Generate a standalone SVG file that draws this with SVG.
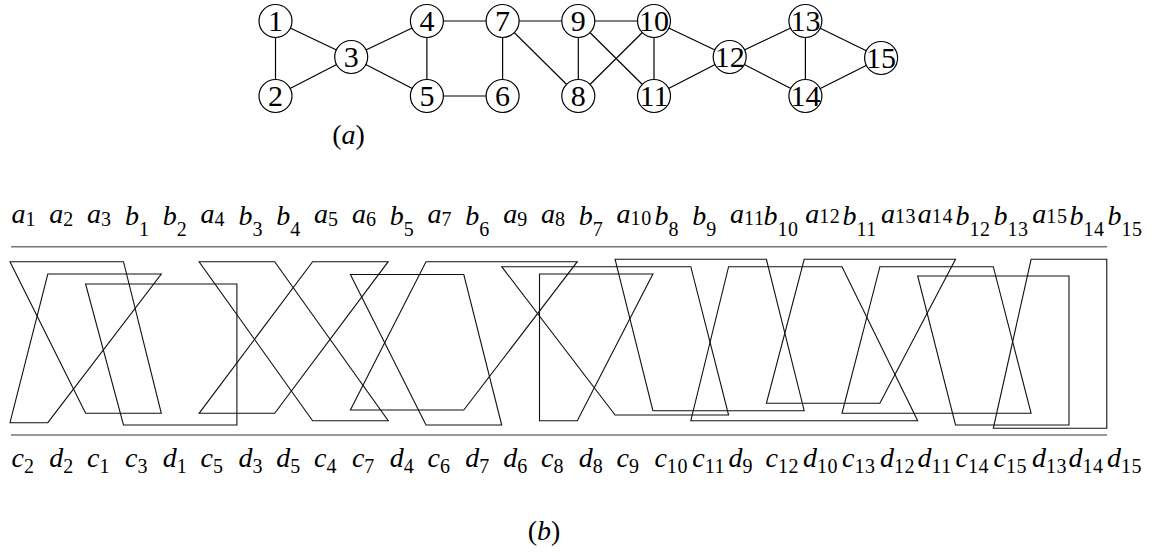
<svg xmlns="http://www.w3.org/2000/svg" width="1155" height="554" viewBox="0 0 1155 554">
<style>
.e{stroke:#000;stroke-width:1.2;fill:none}
.c{fill:#fff;stroke:#000;stroke-width:1.2}
.n{font-family:"Liberation Serif",serif;font-size:30px;text-anchor:middle;fill:#000}
.m{font-family:"Liberation Serif",serif;font-style:italic;font-size:28px;fill:#000}
.s{font-style:normal;font-size:20px;letter-spacing:0.6px}
.cap{font-family:"Liberation Serif",serif;font-size:28px;text-anchor:middle;fill:#000}
.rule{stroke:#777;stroke-width:1.6}
.t{fill:none;stroke:#111;stroke-width:1.1;stroke-linejoin:miter}
</style>
<g id="connectors">
<line class="e" x1="275.5" y1="21" x2="275.5" y2="96"/>
<line class="e" x1="275.5" y1="21" x2="351.2" y2="57"/>
<line class="e" x1="275.5" y1="96" x2="351.2" y2="57"/>
<line class="e" x1="351.2" y1="57" x2="426.9" y2="21"/>
<line class="e" x1="351.2" y1="57" x2="426.9" y2="96"/>
<line class="e" x1="426.9" y1="21" x2="426.9" y2="96"/>
<line class="e" x1="426.9" y1="21" x2="502.6" y2="21"/>
<line class="e" x1="426.9" y1="96" x2="502.6" y2="96"/>
<line class="e" x1="502.6" y1="21" x2="502.6" y2="96"/>
<line class="e" x1="502.6" y1="21" x2="578.3" y2="21"/>
<line class="e" x1="502.6" y1="21" x2="578.3" y2="96"/>
<line class="e" x1="578.3" y1="21" x2="578.3" y2="96"/>
<line class="e" x1="578.3" y1="21" x2="654" y2="21"/>
<line class="e" x1="578.3" y1="21" x2="654" y2="96"/>
<line class="e" x1="654" y1="21" x2="578.3" y2="96"/>
<line class="e" x1="654" y1="21" x2="654" y2="96"/>
<line class="e" x1="654" y1="21" x2="729.7" y2="57"/>
<line class="e" x1="654" y1="96" x2="729.7" y2="57"/>
<line class="e" x1="729.7" y1="57" x2="805.4" y2="21"/>
<line class="e" x1="729.7" y1="57" x2="805.4" y2="96"/>
<line class="e" x1="805.4" y1="21" x2="805.4" y2="96"/>
<line class="e" x1="805.4" y1="21" x2="881.1" y2="58"/>
<line class="e" x1="805.4" y1="96" x2="881.1" y2="58"/>
</g>
<g id="node1"><circle class="c" cx="275.5" cy="21" r="16.5"/><text class="n" x="275.5" y="31">1</text></g>
<g id="node2"><circle class="c" cx="275.5" cy="96" r="16.5"/><text class="n" x="275.5" y="106">2</text></g>
<g id="node3"><circle class="c" cx="351.2" cy="57" r="16.5"/><text class="n" x="351.2" y="67">3</text></g>
<g id="node4"><circle class="c" cx="426.9" cy="21" r="16.5"/><text class="n" x="426.9" y="31">4</text></g>
<g id="node5"><circle class="c" cx="426.9" cy="96" r="16.5"/><text class="n" x="426.9" y="106">5</text></g>
<g id="node6"><circle class="c" cx="502.6" cy="96" r="16.5"/><text class="n" x="502.6" y="106">6</text></g>
<g id="node7"><circle class="c" cx="502.6" cy="21" r="16.5"/><text class="n" x="502.6" y="31">7</text></g>
<g id="node8"><circle class="c" cx="578.3" cy="96" r="16.5"/><text class="n" x="578.3" y="106">8</text></g>
<g id="node9"><circle class="c" cx="578.3" cy="21" r="16.5"/><text class="n" x="578.3" y="31">9</text></g>
<g id="node10"><circle class="c" cx="654" cy="21" r="16.5"/><text class="n" x="654" y="31">10</text></g>
<g id="node11"><circle class="c" cx="654" cy="96" r="16.5"/><text class="n" x="654" y="106">11</text></g>
<g id="node12"><circle class="c" cx="729.7" cy="57" r="16.5"/><text class="n" x="729.7" y="67">12</text></g>
<g id="node13"><circle class="c" cx="805.4" cy="21" r="16.5"/><text class="n" x="805.4" y="31">13</text></g>
<g id="node14"><circle class="c" cx="805.4" cy="96" r="16.5"/><text class="n" x="805.4" y="106">14</text></g>
<g id="node15"><circle class="c" cx="881.1" cy="58" r="16.5"/><text class="n" x="881.1" y="68">15</text></g>
<text class="cap" x="348.5" y="144">(<tspan font-style="italic">a</tspan>)</text>
<g id="toplabels">
<text class="m" x="11.5" y="223">a<tspan class="s" dy="3">1</tspan></text>
<text class="m" x="49.3" y="223">a<tspan class="s" dy="3">2</tspan></text>
<text class="m" x="87.1" y="223">a<tspan class="s" dy="3">3</tspan></text>
<text class="m" x="125" y="225">b<tspan class="s" dy="11">1</tspan></text>
<text class="m" x="162.8" y="225">b<tspan class="s" dy="11">2</tspan></text>
<text class="m" x="200.6" y="223">a<tspan class="s" dy="3">4</tspan></text>
<text class="m" x="238.4" y="225">b<tspan class="s" dy="11">3</tspan></text>
<text class="m" x="276.2" y="225">b<tspan class="s" dy="11">4</tspan></text>
<text class="m" x="314.1" y="223">a<tspan class="s" dy="3">5</tspan></text>
<text class="m" x="351.9" y="223">a<tspan class="s" dy="3">6</tspan></text>
<text class="m" x="389.7" y="225">b<tspan class="s" dy="11">5</tspan></text>
<text class="m" x="427.5" y="223">a<tspan class="s" dy="3">7</tspan></text>
<text class="m" x="465.3" y="225">b<tspan class="s" dy="11">6</tspan></text>
<text class="m" x="503.2" y="223">a<tspan class="s" dy="3">9</tspan></text>
<text class="m" x="541" y="223">a<tspan class="s" dy="3">8</tspan></text>
<text class="m" x="578.8" y="225">b<tspan class="s" dy="11">7</tspan></text>
<text class="m" x="616.6" y="223">a<tspan class="s" dy="2">10</tspan></text>
<text class="m" x="654.4" y="225">b<tspan class="s" dy="11">8</tspan></text>
<text class="m" x="692.3" y="225">b<tspan class="s" dy="11">9</tspan></text>
<text class="m" x="730.1" y="223">a<tspan class="s" dy="2">11</tspan></text>
<text class="m" x="763.5" y="225">b<tspan class="s" dy="11">10</tspan></text>
<text class="m" x="805.2" y="223">a<tspan class="s" dy="0">12</tspan></text>
<text class="m" x="842.5" y="225">b<tspan class="s" dy="11">11</tspan></text>
<text class="m" x="880.9" y="223">a<tspan class="s" dy="0">13</tspan></text>
<text class="m" x="917.8" y="223">a<tspan class="s" dy="0">14</tspan></text>
<text class="m" x="955.5" y="225">b<tspan class="s" dy="11">12</tspan></text>
<text class="m" x="993.5" y="225">b<tspan class="s" dy="11">13</tspan></text>
<text class="m" x="1032.3" y="223">a<tspan class="s" dy="0">15</tspan></text>
<text class="m" x="1069.5" y="225">b<tspan class="s" dy="11">14</tspan></text>
<text class="m" x="1107.5" y="225">b<tspan class="s" dy="11">15</tspan></text>
</g>
<line class="rule" x1="11" y1="246.7" x2="1107" y2="246.7"/>
<line class="rule" x1="11" y1="435" x2="1107" y2="435"/>
<g id="trapezoids">
<polygon class="t" id="T1" points="10,261.7 123.5,261.7 161.3,413.3 85.6,413.3"/>
<polygon class="t" id="T2" points="47.8,274 161.3,274 47.8,422.7 10,422.7"/>
<polygon class="t" id="T3" points="85.6,284 236.9,284 236.9,425 123.5,425"/>
<polygon class="t" id="T4" points="199.1,261.7 274.7,261.7 388.2,420.7 312.6,420.7"/>
<polygon class="t" id="T5" points="312.6,261.7 388.2,261.7 274.7,413.3 199.1,413.3"/>
<polygon class="t" id="T6" points="350.4,274.5 463.8,274.5 501.7,425 426,425"/>
<polygon class="t" id="T7" points="426,261.7 577.3,261.7 463.8,410 350.4,410"/>
<polygon class="t" id="T8" points="539.5,274 652.9,274 577.3,420.7 539.5,420.7"/>
<polygon class="t" id="T9" points="501.7,266.7 690.8,266.7 728.6,415 615.1,415"/>
<polygon class="t" id="T10" points="615.1,259.3 766.4,259.3 804.2,410.7 652.9,410.7"/>
<polygon class="t" id="T11" points="728.6,266.7 842,266.7 917.7,420.7 690.8,420.7"/>
<polygon class="t" id="T12" points="804.2,259.3 955.5,259.3 879.9,403.3 766.4,403.3"/>
<polygon class="t" id="T13" points="879.9,266.7 993.3,266.7 1031.1,413.3 842,413.3"/>
<polygon class="t" id="T14" points="917.7,276 1069,276 1069,425 955.5,425"/>
<polygon class="t" id="T15" points="1031.1,259.3 1106.8,259.3 1106.8,428.3 993.3,428.3"/>
</g>
<g id="bottomlabels">
<text class="m" x="11.5" y="467">c<tspan class="s" dy="6">2</tspan></text>
<text class="m" x="49.3" y="467">d<tspan class="s" dy="6">2</tspan></text>
<text class="m" x="87.1" y="467">c<tspan class="s" dy="6">1</tspan></text>
<text class="m" x="125" y="467">c<tspan class="s" dy="6">3</tspan></text>
<text class="m" x="162.8" y="467">d<tspan class="s" dy="6">1</tspan></text>
<text class="m" x="200.6" y="467">c<tspan class="s" dy="6">5</tspan></text>
<text class="m" x="238.4" y="467">d<tspan class="s" dy="6">3</tspan></text>
<text class="m" x="276.2" y="467">d<tspan class="s" dy="6">5</tspan></text>
<text class="m" x="314.1" y="467">c<tspan class="s" dy="6">4</tspan></text>
<text class="m" x="351.9" y="467">c<tspan class="s" dy="6">7</tspan></text>
<text class="m" x="389.7" y="467">d<tspan class="s" dy="6">4</tspan></text>
<text class="m" x="427.5" y="467">c<tspan class="s" dy="6">6</tspan></text>
<text class="m" x="465.3" y="467">d<tspan class="s" dy="6">7</tspan></text>
<text class="m" x="503.2" y="467">d<tspan class="s" dy="6">6</tspan></text>
<text class="m" x="541" y="467">c<tspan class="s" dy="6">8</tspan></text>
<text class="m" x="578.8" y="467">d<tspan class="s" dy="6">8</tspan></text>
<text class="m" x="616.6" y="467">c<tspan class="s" dy="6">9</tspan></text>
<text class="m" x="654.4" y="467">c<tspan class="s" dy="6">10</tspan></text>
<text class="m" x="692.3" y="467">c<tspan class="s" dy="6">11</tspan></text>
<text class="m" x="728.5" y="467">d<tspan class="s" dy="6">9</tspan></text>
<text class="m" x="765.5" y="467">c<tspan class="s" dy="6">12</tspan></text>
<text class="m" x="803" y="467">d<tspan class="s" dy="6">10</tspan></text>
<text class="m" x="842" y="467">c<tspan class="s" dy="6">13</tspan></text>
<text class="m" x="880" y="467">d<tspan class="s" dy="6">12</tspan></text>
<text class="m" x="917.5" y="467">d<tspan class="s" dy="6">11</tspan></text>
<text class="m" x="955.5" y="467">c<tspan class="s" dy="6">14</tspan></text>
<text class="m" x="993.5" y="467">c<tspan class="s" dy="6">15</tspan></text>
<text class="m" x="1032" y="467">d<tspan class="s" dy="6">13</tspan></text>
<text class="m" x="1068.5" y="467">d<tspan class="s" dy="6">14</tspan></text>
<text class="m" x="1107" y="467">d<tspan class="s" dy="6">15</tspan></text>
</g>
<text class="cap" x="544" y="540">(<tspan font-style="italic">b</tspan>)</text>
</svg>
